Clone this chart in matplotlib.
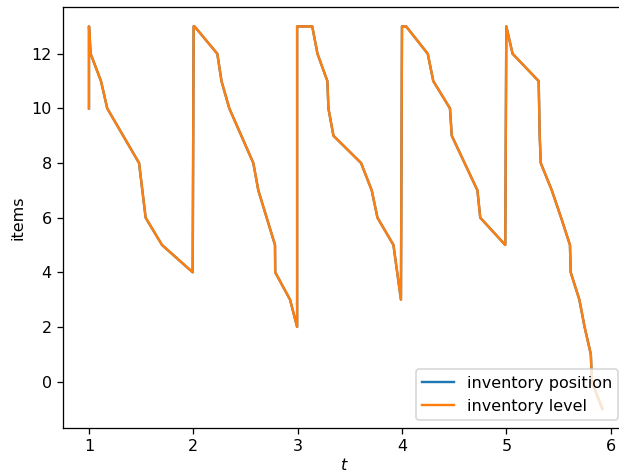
import matplotlib
matplotlib.use("Agg")
import matplotlib.pyplot as plt

t = [1.0, 1.0, 1.016, 1.115, 1.175, 1.48, 1.543, 1.70, 1.994, 2.003, 2.012,
     2.23, 2.27, 2.345, 2.575, 2.623, 2.783, 2.785, 2.927, 2.995, 2.995,
     3.14, 3.19, 3.285, 3.295, 3.343, 3.608, 3.71, 3.765, 3.918, 3.99,
     4.0, 4.04, 4.247, 4.30, 4.46, 4.477, 4.723, 4.75, 4.99, 5.0, 5.06,
     5.31, 5.315, 5.32, 5.33, 5.436, 5.525, 5.61, 5.617, 5.70, 5.75, 5.81,
     5.82, 5.92]
inventory_level = [10, 13, 12, 11, 10, 8, 6, 5, 4, 13, 13,
                   12, 11, 10, 8, 7, 5, 4, 3, 2, 13,
                   13, 12, 11, 10, 9, 8, 7, 6, 5, 3,
                   13, 13, 12, 11, 10, 9, 7, 6, 5, 13, 12,
                   11, 10, 9, 8, 7, 6, 5, 4, 3, 2, 1,
                   0, -1]
inventory_position = list(inventory_level)

DPI = 115
fig = plt.figure(figsize=(619 / DPI, 472 / DPI), dpi=DPI)
ax = fig.add_axes([63 / 619, (472 - 428) / 472, (626.3 - 63) / 619, (428 - 7.3) / 472])
ax.plot(t, inventory_position, label="inventory position")
ax.plot(t, inventory_level, label="inventory level")
ax.set_xlim(0.751, 6.15)
ax.set_ylim(-1.7, 13.7)
ax.set_xlabel("$t$", labelpad=2)
ax.set_ylabel("items")
ax.legend(loc="lower right")
fig.savefig("out.png", dpi=DPI)
